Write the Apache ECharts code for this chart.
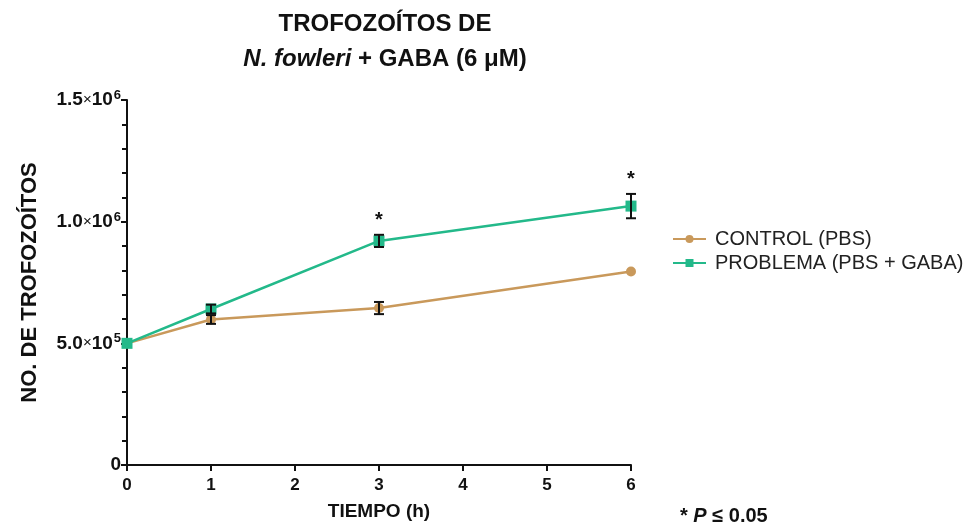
<!DOCTYPE html>
<html>
<head>
<meta charset="utf-8">
<script src="https://cdn.jsdelivr.net/npm/echarts@6/dist/echarts.min.js"></script>
<style>
  html, body { margin: 0; padding: 0; background: #fff; }
  #main { width: 977px; height: 529px; }
</style>
</head>
<body>
<div id="main"></div>
<script>
// datos
const hours = [0, 1, 3, 6];
const controlMean = [500000, 598000, 645000, 795000];
const controlErr = [0, 18000, 25000, 0];
const problemMean = [500000, 641000, 921000, 1064000];
const problemErr = [0, 18000, 25000, 50000];
const problemSig = [false, false, true, true]; // * P <= 0.05
const yTicks = [0, 500000, 1000000, 1500000];

const FONT = 'Liberation Sans, Arial, sans-serif';
const colControl = '#c9995b';
const colProblem = '#23b98a';

// etiqueta del eje y, tipo 1.5x10^6
function yLabel (v) {
  if (v === 0) return '{a|0}';
  const e = Math.floor(Math.log10(v));
  const m = (v / Math.pow(10, e)).toFixed(1);
  return '{a|' + m + '}{x|×}{a|10}{s|' + e + '}';
}

// barras de error (y asterisco si es significativo)
function errSeries (name, means, errs, sig) {
  const data = hours.map((h, i) => [h, means[i], errs[i], sig ? (sig[i] ? 1 : 0) : 0]);
  return {
    type: 'custom',
    name: name + '_err',
    z: 5,
    silent: true,
    data: data,
    renderItem: function (params, api) {
      const x = api.value(0), y = api.value(1), e = api.value(2), s = api.value(3);
      const top = api.coord([x, y + e]);
      const bot = api.coord([x, y - e]);
      const children = [];
      const style = { stroke: '#111', lineWidth: 2 };
      if (e > 0) {
        children.push(
          { type: 'line', shape: { x1: top[0], y1: top[1], x2: bot[0], y2: bot[1] }, style: style },
          { type: 'line', shape: { x1: top[0] - 5, y1: top[1], x2: top[0] + 5, y2: top[1] }, style: style },
          { type: 'line', shape: { x1: bot[0] - 5, y1: bot[1], x2: bot[0] + 5, y2: bot[1] }, style: style }
        );
      }
      if (s) {
        children.push({
          type: 'text',
          style: { x: top[0], y: top[1] - 4, text: '*', fill: '#111', font: 'bold 20px ' + FONT, align: 'center', verticalAlign: 'bottom' }
        });
      }
      return { type: 'group', children: children };
    }
  };
}

const chart = echarts.init(document.getElementById('main'));
chart.setOption({
  animation: false,
  backgroundColor: '#fff',
  title: {
    text: '{t|TROFOZOÍTOS DE}\n{i|N. fowleri}{t| + GABA (6 μM)}',
    left: 380,
    textAlign: 'center',
    top: 2,
    textStyle: {
      rich: {
        t: { fontFamily: FONT, fontWeight: 'bold', fontSize: 24, color: '#111', lineHeight: 35 },
        i: { fontFamily: FONT, fontWeight: 'bold', fontStyle: 'italic', fontSize: 24, color: '#111', lineHeight: 35 }
      }
    }
  },
  legend: {
    orient: 'vertical',
    left: 667,
    top: 224,
    itemWidth: 33,
    itemHeight: 10,
    itemGap: 4,
    data: ['CONTROL (PBS)', 'PROBLEMA (PBS + GABA)'],
    textStyle: { fontFamily: FONT, fontSize: 20, color: '#222', padding: [0, 0, 0, 4] }
  },
  grid: { left: 127, right: 346, top: 100, bottom: 64, containLabel: false },
  xAxis: {
    type: 'value',
    min: 0, max: 6, interval: 1,
    name: 'TIEMPO (h)',
    nameLocation: 'middle',
    nameGap: 37,
    nameTextStyle: { fontFamily: FONT, fontWeight: 'bold', fontSize: 19, color: '#111' },
    axisLine: { lineStyle: { color: '#111', width: 2 } },
    axisTick: { show: true, length: 6, lineStyle: { color: '#111', width: 2 } },
    axisLabel: { fontFamily: FONT, fontWeight: 'bold', fontSize: 17, color: '#111', margin: 12 },
    splitLine: { show: false }
  },
  yAxis: {
    type: 'value',
    min: 0, max: 1500000, interval: 500000,
    name: 'NO. DE TROFOZOÍTOS',
    nameLocation: 'middle',
    nameGap: 86,
    nameTextStyle: { fontFamily: FONT, fontWeight: 'bold', fontSize: 22, color: '#111' },
    axisLine: { show: true, lineStyle: { color: '#111', width: 2 } },
    axisTick: { show: true, length: 6, lineStyle: { color: '#111', width: 2 } },
    minorTick: { show: true, splitNumber: 5, length: 5, lineStyle: { color: '#111', width: 2 } },
    axisLabel: {
      margin: 6,
      formatter: yLabel,
      rich: {
        a: { fontFamily: FONT, fontWeight: 'bold', fontSize: 19, color: '#111' },
        x: { fontFamily: FONT, fontSize: 15, color: '#111' },
        s: { fontFamily: FONT, fontWeight: 'bold', fontSize: 13, color: '#111', verticalAlign: 'top', padding: [0, 0, 9, 1] }
      }
    },
    splitLine: { show: false }
  },
  graphic: [{
    type: 'text',
    left: 680,
    top: 506,
    style: {
      text: '{a|* }{p|P}{a| ≤ 0.05}',
      rich: {
        a: { fontFamily: FONT, fontWeight: 'bold', fontSize: 20, fill: '#111' },
        p: { fontFamily: FONT, fontWeight: 'bold', fontStyle: 'italic', fontSize: 20, fill: '#111' }
      }
    }
  }],
  series: [
    {
      name: 'CONTROL (PBS)',
      type: 'line',
      data: hours.map((h, i) => [h, controlMean[i]]),
      symbol: 'circle',
      symbolSize: 10,
      color: colControl,
      lineStyle: { color: colControl, width: 2.5 },
      itemStyle: { color: colControl },
      z: 3
    },
    {
      name: 'PROBLEMA (PBS + GABA)',
      type: 'line',
      data: hours.map((h, i) => [h, problemMean[i]]),
      symbol: 'rect',
      symbolSize: 11,
      color: colProblem,
      lineStyle: { color: colProblem, width: 2.5 },
      itemStyle: { color: colProblem },
      z: 4
    },
    errSeries('control', controlMean, controlErr, null),
    errSeries('problem', problemMean, problemErr, problemSig)
  ]
});
</script>
</body>
</html>
